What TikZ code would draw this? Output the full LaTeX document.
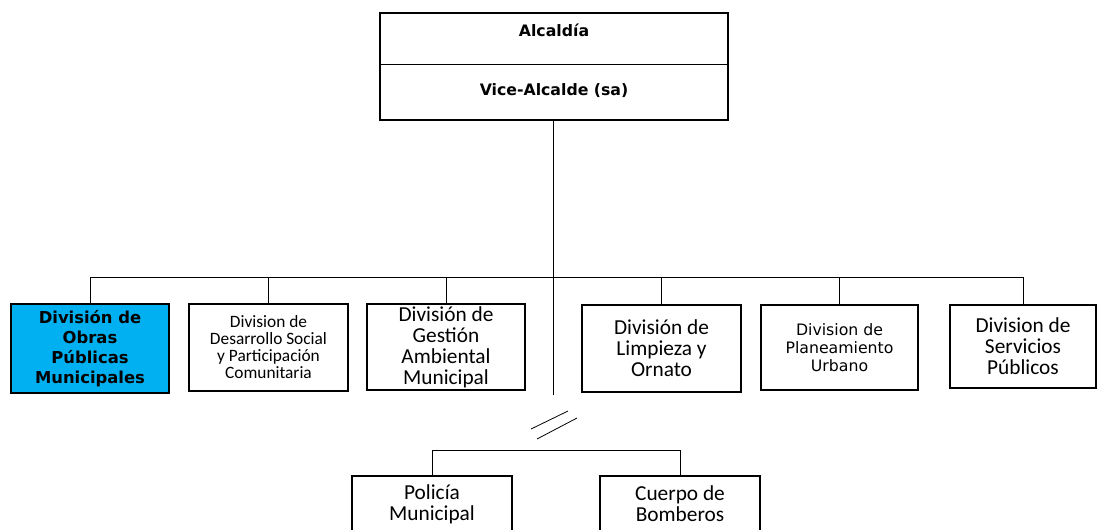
\documentclass[tikz,border=0pt]{standalone}
\usepackage{fontspec}
\setmainfont{Carlito}
\newfontfamily\dejavu{DejaVu Sans}
\definecolor{obras}{HTML}{00B0F0}

\begin{document}
\begin{tikzpicture}[x=0.75pt, y=-0.75pt, line width=0.6pt,
  box/.style={rectangle, draw, line width=1.5pt, align=center, inner sep=0pt},
  big/.style={font=\fontsize{16}{15.75}\selectfont},
  head/.style={font=\dejavu\bfseries\fontsize{11.8}{14}\selectfont}]
\useasboundingbox (0, 0) rectangle (1098, 529);

\path (554, 66.5) node[box, minimum width=261pt, minimum height=80.25pt] (alc) {}
      (554, 30) node[head] (alcT) {Alcaldía}
      (554, 91) node[head] (vice) {Vice-Alcalde (sa)}

      (90, 348.5) node[box, fill=obras, minimum width=118.5pt, minimum height=66.75pt,
        font=\dejavu\bfseries\fontsize{12.3}{15}\selectfont] (d1) {División de\\Obras\\Públicas\\Municipales}
      (268.5, 347.5) node[box, minimum width=119.25pt, minimum height=65.25pt,
        font=\fontsize{13}{12.75}\selectfont] (d2) {Division de\\Desarrollo Social\\y Participación\\Comunitaria}
      (446, 347) node[box, big, minimum width=118.5pt, minimum height=64.5pt] (d3) {División de\\Gestión\\Ambiental\\Municipal}
      (661.5, 348.5) node[box, big, minimum width=119.25pt, minimum height=65.25pt] (d4) {División de\\Limpieza y\\Ornato}
      (839.5, 347.5) node[box, minimum width=117.75pt, minimum height=63.75pt,
        font=\dejavu\fontsize{11.8}{13.5}\selectfont] (d5) {Division de\\Planeamiento\\Urbano}
      (1023, 346.5) node[box, big, minimum width=109.5pt, minimum height=62.25pt] (d6) {Division de\\Servicios\\Públicos}

      (432, 504) node[box, big, minimum width=120pt, minimum height=42pt] (pol) {Policía\\Municipal}
      (680, 504) node[box, big, minimum width=120pt, minimum height=42pt] (bom) {Cuerpo de\\Bomberos};

\coordinate (cut) at (553, 395);
\coordinate (bar) at (0, 277);
\coordinate (barB) at (0, 450);

\draw (alc.west |- 0, 64) -- (alc.east |- 0, 64);
\draw (alc.south -| cut) -- (cut);
\draw (d1.north |- bar) -- (d6.north |- bar);
\foreach \n in {d1, d2, d3, d4, d5, d6}
  \draw (\n.north) -- (\n.north |- bar);

\draw (531, 429) -- (568, 411);
\draw (537, 439) -- (577, 418);

\draw (pol.north) -- (pol.north |- barB) -- (bom.north |- barB) -- (bom.north);
\end{tikzpicture}
\end{document}
